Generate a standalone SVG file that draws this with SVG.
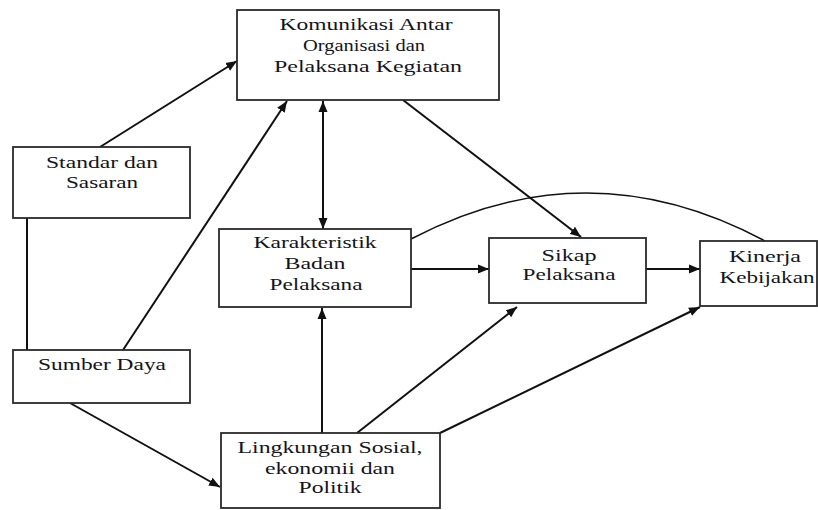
<svg xmlns="http://www.w3.org/2000/svg" width="818" height="510" viewBox="0 0 818 510">
<style>
.box{fill:#fff;stroke:#2a2a2a;stroke-width:1.8}
.t{font-family:"Liberation Serif","Times New Roman",serif;font-size:16.5px;fill:#141420;text-anchor:middle}
.c{fill:none;stroke:#111;stroke-width:2}
.a{marker-end:url(#ah)}
</style>
<defs>
<marker id="ah" markerUnits="userSpaceOnUse" markerWidth="12" markerHeight="10" refX="11" refY="5" orient="auto-start-reverse">
<path d="M0,0.5 L11,5 L0,9.5 z" fill="#111"/>
</marker>
</defs>
<rect width="818" height="510" fill="#fff"/>
<g id="connectors">
<line class="c a" x1="100" y1="147" x2="237" y2="61"/>
<line class="c" x1="27" y1="218" x2="27" y2="350"/>
<line class="c a" x1="123" y1="350" x2="287" y2="101"/>
<line class="c a" x1="70" y1="403" x2="220" y2="487"/>
<line class="c a" x1="323" y1="229" x2="323" y2="101" style="marker-start:url(#ah)"/>
<line class="c a" x1="403" y1="100" x2="581" y2="237"/>
<line class="c a" x1="411" y1="269" x2="489" y2="269"/>
<line class="c a" x1="646" y1="269" x2="700" y2="269"/>
<path class="c" style="stroke-width:1.5" d="M411,239 Q588,146 765,241"/>
<line class="c a" x1="322" y1="433" x2="322" y2="308"/>
<line class="c a" x1="357" y1="433" x2="517" y2="307"/>
<line class="c a" x1="440" y1="433" x2="700" y2="307"/>
</g>
<g id="komunikasi">
<rect class="box" x="237" y="10" width="262" height="90"/>
<text class="t" x="366" y="30" textLength="173" lengthAdjust="spacingAndGlyphs">Komunikasi Antar</text>
<text class="t" x="364" y="51" textLength="122" lengthAdjust="spacingAndGlyphs">Organisasi dan</text>
<text class="t" x="368" y="72" textLength="188" lengthAdjust="spacingAndGlyphs">Pelaksana Kegiatan</text>
</g>
<g id="standar">
<rect class="box" x="13" y="147" width="177" height="71"/>
<text class="t" x="102" y="168" textLength="112" lengthAdjust="spacingAndGlyphs">Standar dan</text>
<text class="t" x="102" y="188" textLength="72" lengthAdjust="spacingAndGlyphs">Sasaran</text>
</g>
<g id="sumber">
<rect class="box" x="13" y="350" width="177" height="53"/>
<text class="t" x="102" y="370" textLength="128" lengthAdjust="spacingAndGlyphs">Sumber Daya</text>
</g>
<g id="karakteristik">
<rect class="box" x="219" y="229" width="192" height="78"/>
<text class="t" x="315" y="248" textLength="123" lengthAdjust="spacingAndGlyphs">Karakteristik</text>
<text class="t" x="315" y="269" textLength="61" lengthAdjust="spacingAndGlyphs">Badan</text>
<text class="t" x="316" y="290" textLength="93" lengthAdjust="spacingAndGlyphs">Pelaksana</text>
</g>
<g id="sikap">
<rect class="box" x="489" y="238" width="157" height="65"/>
<text class="t" x="569" y="261" textLength="55" lengthAdjust="spacingAndGlyphs">Sikap</text>
<text class="t" x="569" y="280" textLength="93" lengthAdjust="spacingAndGlyphs">Pelaksana</text>
</g>
<g id="kinerja">
<rect class="box" x="700" y="241" width="117" height="65"/>
<text class="t" x="765" y="262" textLength="72" lengthAdjust="spacingAndGlyphs">Kinerja</text>
<text class="t" x="767" y="283" textLength="95" lengthAdjust="spacingAndGlyphs">Kebijakan</text>
</g>
<g id="lingkungan">
<rect class="box" x="221" y="433" width="219" height="75"/>
<text class="t" x="330" y="453" textLength="185" lengthAdjust="spacingAndGlyphs">Lingkungan Sosial,</text>
<text class="t" x="330" y="474" textLength="130" lengthAdjust="spacingAndGlyphs">ekonomii dan</text>
<text class="t" x="330" y="493" textLength="63" lengthAdjust="spacingAndGlyphs">Politik</text>
</g>
</svg>
